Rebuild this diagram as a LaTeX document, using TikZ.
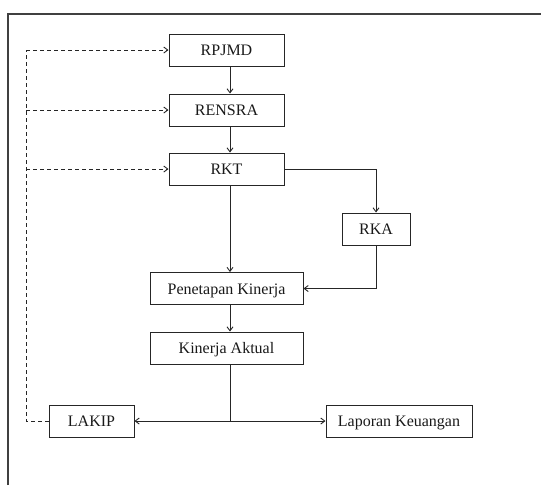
\documentclass[tikz,border=0pt]{standalone}
\usepackage{fontspec}
\setmainfont{Liberation Serif}
\usepackage{tikz}
\usetikzlibrary{positioning,calc,arrows.meta}

\tikzset{
	kotak/.style={draw=black!85, line width=1pt, rectangle, minimum height=32, inner sep=0pt,
		text height=11pt, text depth=0pt, font=\fontsize{16}{19}\selectfont, text=black!90},
	panah/.style={draw=black!85, line width=0.9pt, -{Straight Barb[length=4pt,width=6pt]}},
	putus/.style={panah, dash pattern=on 4pt off 3pt}
}

\begin{document}
\begin{tikzpicture}[x=1pt,y=-1pt]
	\useasboundingbox (0,0) rectangle (541,485);
	
	% bingkai
	\draw[black!75, line width=1.4pt] (8,485) -- (8,14) -- (541,14);
	
	% kotak-kotak
	\node[kotak, minimum width=115] (rpjmd) at (226.5,50) {RPJMD};
	\node[kotak, minimum width=115] (rensra) at (226.5,110) {RENSRA};
	\node[kotak, minimum width=115] (rkt) at (226.5,169) {RKT};
	\node[kotak, minimum width=68] (rka) at (376,229) {RKA};
	\node[kotak, minimum width=153] (pk) at (226.5,288.5) {Penetapan Kinerja};
	\node[kotak, minimum width=153] (aktual) at (226.5,348) {Kinerja Aktual};
	\node[kotak, minimum width=85] (lakip) at (91.5,421) {LAKIP};
	\node[kotak, minimum width=146] (lapkeu) at (399,421) {Laporan Keuangan};
	
	% alur utama (sumbu sedikit ke kanan)
	\coordinate (sumbu) at (230,0);
	\draw[panah] (rpjmd.south -| sumbu) -- (rensra.north -| sumbu);
	\draw[panah] (rensra.south -| sumbu) -- (rkt.north -| sumbu);
	\draw[panah] (rkt.south -| sumbu) -- (pk.north -| sumbu);
	\draw[panah] (pk.south -| sumbu) -- (aktual.north -| sumbu);
	\draw[panah] (rkt.east) -| (rka.north);
	\draw[panah] (rka.south) |- (pk.east);
	
	% percabangan ke laporan
	\coordinate (cabang) at (sumbu |- lakip);
	\draw[draw=black!85, line width=0.9pt] (aktual.south -| sumbu) -- (cabang);
	\draw[panah] (cabang) -- (lakip.east);
	\draw[panah] (cabang) -- (lapkeu.west);
	
	% umpan balik putus-putus
	\coordinate (balik) at (26,421);
	\draw[draw=black!85, line width=0.9pt, dash pattern=on 4pt off 3pt] (lakip.west) -- (balik) -- (balik |- rpjmd.west);
	\foreach \k in {rpjmd,rensra,rkt} {
		\draw[putus] (balik |- \k.west) -- (\k.west);
	}
\end{tikzpicture}
\end{document}
